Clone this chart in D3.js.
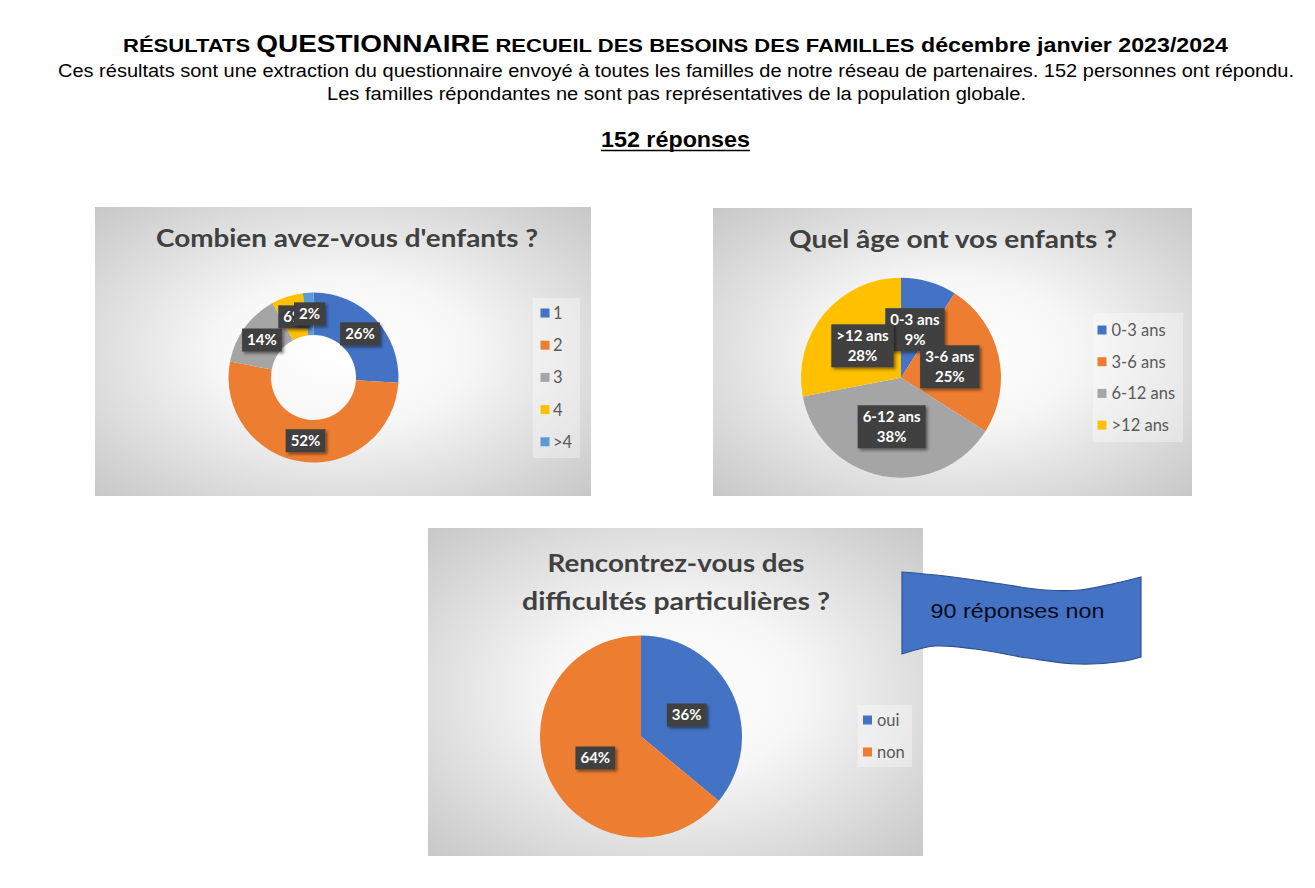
<!DOCTYPE html>
<html>
<head>
<meta charset="utf-8">
<script src="https://cdn.jsdelivr.net/npm/d3@7/dist/d3.min.js"></script>
<style>
  html, body { margin: 0; padding: 0; background: #ffffff; }
  svg { display: block; }
</style>
</head>
<body>
<script>
// ---------- DATA ----------
const headerTitleParts = ["RÉSULTATS ", "QUESTIONNAIRE", " RECUEIL DES BESOINS DES FAMILLES", " décembre janvier 2023/2024"];
const headerLine2 = "Ces résultats sont une extraction du questionnaire envoyé à toutes les familles de notre réseau de partenaires. 152 personnes ont répondu.";
const headerLine3 = "Les familles répondantes ne sont pas représentatives de la population globale.";
const headerCount = "152 réponses";

const q1Title = ["Combien avez-vous d'enfants ?"];
const q1Categories = ["1", "2", "3", "4", ">4"];
const q1Values = [26, 52, 14, 6, 2];

const q2Title = ["Quel âge ont vos enfants ?"];
const q2Categories = ["0-3 ans", "3-6 ans", "6-12 ans", ">12 ans"];
const q2Values = [9, 25, 38, 28];

const q3Title = ["Rencontrez-vous des", "difficultés particulières ?"];
const q3Categories = ["oui", "non"];
const q3Values = [36, 64];

const bannerText = "90 réponses non";

const palette = ["#4472C4", "#ED7D31", "#A5A5A5", "#FFC000", "#5B9BD5"];

// ---------- SVG ----------
const W = 1315, H = 888;
const svg = d3.select("body").append("svg").attr("width", W).attr("height", H);
const defs = svg.append("defs");

const grad = defs.append("radialGradient").attr("id", "panelGrad")
  .attr("cx", "0.5").attr("cy", "0.5").attr("r", "0.72");
grad.append("stop").attr("offset", "0").attr("stop-color", "#ffffff");
grad.append("stop").attr("offset", "0.35").attr("stop-color", "#f7f7f7");
grad.append("stop").attr("offset", "1").attr("stop-color", "#c6c6c6");

const shadow = defs.append("filter").attr("id", "lblShadow")
  .attr("x", "-30%").attr("y", "-30%").attr("width", "170%").attr("height", "170%");
shadow.append("feDropShadow").attr("dx", 2).attr("dy", 2).attr("stdDeviation", 1.5)
  .attr("flood-color", "#000").attr("flood-opacity", 0.45);

const serif = "'Liberation Sans', Arial, sans-serif";
const chartFont = "Lato, 'Open Sans', sans-serif";

// ---------- HEADER ----------
const t1 = svg.append("text").attr("x", 675.5).attr("y", 52)
  .attr("text-anchor", "middle").attr("font-family", serif).attr("font-weight", "bold")
  .attr("fill", "#000");
const partSizes = [18.5, 23.5, 18.5, 19.5];
headerTitleParts.forEach((p, i) => {
  t1.append("tspan").attr("font-size", partSizes[i]).text(p);
});
t1.attr("textLength", 1105).attr("lengthAdjust", "spacingAndGlyphs");

svg.append("text").attr("x", 676).attr("y", 77)
  .attr("text-anchor", "middle").attr("font-family", serif).attr("font-size", 17.5)
  .attr("fill", "#000").attr("textLength", 1236).attr("lengthAdjust", "spacingAndGlyphs")
  .text(headerLine2);

svg.append("text").attr("x", 676.5).attr("y", 100)
  .attr("text-anchor", "middle").attr("font-family", serif).attr("font-size", 17.5)
  .attr("fill", "#000").attr("textLength", 699).attr("lengthAdjust", "spacingAndGlyphs")
  .text(headerLine3);

svg.append("text").attr("x", 675.5).attr("y", 147)
  .attr("text-anchor", "middle").attr("font-family", serif).attr("font-size", 21.5)
  .attr("font-weight", "bold").attr("fill", "#000")
  .attr("textLength", 149).attr("lengthAdjust", "spacingAndGlyphs")
  .text(headerCount);
svg.append("line").attr("x1", 601).attr("x2", 750).attr("y1", 150.5).attr("y2", 150.5)
  .attr("stroke", "#000").attr("stroke-width", 1.6);

// ---------- PANELS ----------
function drawPanel(cfg) {
  const g = svg.append("g");
  g.append("rect").attr("x", cfg.x).attr("y", cfg.y).attr("width", cfg.w).attr("height", cfg.h)
    .attr("fill", "url(#panelGrad)");

  cfg.title.forEach((line, i) => {
    g.append("text").attr("x", cfg.titleX).attr("y", cfg.titleY[i])
      .attr("text-anchor", "middle").attr("font-family", chartFont).attr("font-weight", "bold")
      .attr("font-size", 24.5).attr("fill", "#404040")
      .attr("textLength", cfg.titleW[i]).attr("lengthAdjust", "spacingAndGlyphs")
      .text(line);
  });

  const data = cfg.cats.map((c, i) => ({ cat: c, v: cfg.vals[i], color: palette[i] }));
  const pie = d3.pie().sort(null).value(d => d.v);
  const arcs = pie(data);
  const arc = d3.arc().innerRadius(cfg.r).outerRadius(cfg.R);
  const pg = g.append("g").attr("transform", `translate(${cfg.cx},${cfg.cy})`);
  pg.selectAll("path.slice").data(arcs).join("path").attr("class", "slice")
    .attr("d", arc).attr("fill", d => d.data.color);

  arcs.forEach(a => {
    const [lx, ly] = arc.centroid(a);
    const lines = cfg.twoLine ? [a.data.cat, a.data.v + "%"] : [a.data.v + "%"];
    const lg = pg.append("g").attr("transform", `translate(${lx},${ly})`);
    const rect = lg.append("rect").attr("fill", "#404040").attr("filter", "url(#lblShadow)");
    const lh = 20;
    const texts = lines.map((ln, i) => lg.append("text")
      .attr("x", 0).attr("y", (i - (lines.length - 1) / 2) * lh)
      .attr("dy", "0.36em").attr("text-anchor", "middle")
      .attr("font-family", chartFont).attr("font-weight", "bold")
      .attr("font-size", cfg.lblSize).attr("fill", "#ffffff").text(ln));
    const mw = d3.max(texts, t => t.node().getComputedTextLength());
    const bw = mw + 10, bh = lines.length * lh + 3;
    rect.attr("x", -bw / 2).attr("y", -bh / 2).attr("width", bw).attr("height", bh);
  });

  const L = cfg.legend;
  g.append("rect").attr("x", L.x).attr("y", L.y).attr("width", L.w).attr("height", L.h)
    .attr("fill", "#ffffff").attr("fill-opacity", 0.35);
  data.forEach((d, i) => {
    const yy = L.y0 + i * L.step;
    g.append("rect").attr("x", L.sqX).attr("y", yy - 4.5).attr("width", 9).attr("height", 9)
      .attr("fill", d.color);
    g.append("text").attr("x", L.textX).attr("y", yy).attr("dy", "0.36em")
      .attr("font-family", chartFont).attr("font-size", L.size).attr("fill", "#595959")
      .text(d.cat);
  });
}

drawPanel({
  x: 95, y: 207, w: 496, h: 289,
  title: q1Title, titleX: 347, titleY: [247], titleW: [382],
  cats: q1Categories, vals: q1Values,
  cx: 313.5, cy: 377.5, R: 85, r: 42.5, twoLine: false, lblSize: 15,
  legend: { x: 533, y: 298, w: 47, h: 160, y0: 313, step: 32.2, sqX: 540.5, textX: 553, size: 16.5 }
});

drawPanel({
  x: 713, y: 208, w: 479, h: 288,
  title: q2Title, titleX: 953, titleY: [248], titleW: [328],
  cats: q2Categories, vals: q2Values,
  cx: 901, cy: 377.7, R: 100, r: 0, twoLine: true, lblSize: 15,
  legend: { x: 1093, y: 313, w: 90, h: 129, y0: 330, step: 31.7, sqX: 1097.5, textX: 1111.5, size: 16.5 }
});

drawPanel({
  x: 428, y: 528, w: 495, h: 328,
  title: q3Title, titleX: 676, titleY: [572, 610], titleW: [257, 308],
  cats: q3Categories, vals: q3Values,
  cx: 641, cy: 736.5, R: 101, r: 0, twoLine: false, lblSize: 15,
  legend: { x: 858, y: 705, w: 54, h: 62, y0: 720, step: 32, sqX: 863, textX: 877, size: 16.5 }
});

// ---------- BANNER ----------
const topPts = [[902, 572], [945, 576], [995, 583], [1045, 590], [1080, 590], [1112, 584], [1141, 577]];
const botPts = [[1141, 657], [1125, 661], [1078, 664], [1028, 658], [975, 649], [935, 646], [902, 654]];
const curve = d3.line().curve(d3.curveCatmullRom);
const bannerPath = curve(topPts) + "L" + curve(botPts).slice(1) + "Z";
svg.append("path").attr("d", bannerPath).attr("fill", "#4472C4")
  .attr("stroke", "#2F528F").attr("stroke-width", 1.2);
svg.append("text").attr("x", 1017.5).attr("y", 618).attr("text-anchor", "middle")
  .attr("font-family", serif).attr("font-size", 21).attr("fill", "#0a0a1a")
  .attr("textLength", 174).attr("lengthAdjust", "spacingAndGlyphs")
  .text(bannerText);
</script>
</body>
</html>
